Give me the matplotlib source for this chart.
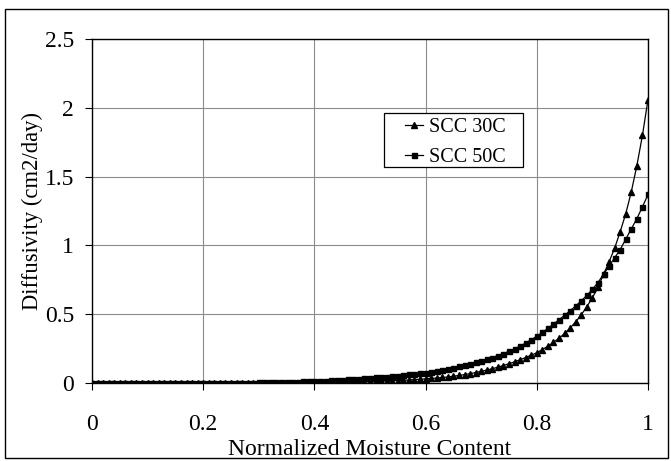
import matplotlib
matplotlib.use("Agg")
import matplotlib.pyplot as plt
from matplotlib.patches import Rectangle

# normalized moisture content, 0.00 .. 1.00 in steps of 0.01
moisture = [i / 100 for i in range(101)]

# diffusivity (cm2/day)
scc_30c = ([0.000] * 20 + [0.001] * 10 + [0.002] * 8 +
           [0.003, 0.003,
            0.003, 0.004, 0.004, 0.005, 0.005, 0.006, 0.007, 0.007, 0.008, 0.009,
            0.011, 0.012, 0.013, 0.015, 0.016, 0.018, 0.020, 0.022, 0.025, 0.027,
            0.030, 0.033, 0.036, 0.040, 0.044, 0.049, 0.055, 0.061, 0.068, 0.076,
            0.085, 0.094, 0.104, 0.115, 0.127, 0.140, 0.154, 0.169, 0.185, 0.202,
            0.220, 0.243, 0.268, 0.295, 0.325, 0.360, 0.400, 0.445, 0.495, 0.555,
            0.620, 0.695, 0.790, 0.880, 0.980, 1.100, 1.230, 1.390, 1.580, 1.800,
            2.060])

scc_50c = ([0.000] * 10 + [0.001] * 10 + [0.002] * 5 + [0.003] * 5 +
           [0.004, 0.005, 0.005, 0.006, 0.007, 0.008, 0.009, 0.010, 0.012, 0.013,
            0.015, 0.016, 0.018, 0.020, 0.022, 0.024, 0.026, 0.029, 0.031, 0.034,
            0.037, 0.040, 0.043, 0.047, 0.050, 0.054, 0.058, 0.062, 0.067, 0.071,
            0.075, 0.081, 0.088, 0.095, 0.103, 0.111, 0.120, 0.129, 0.139, 0.149,
            0.160, 0.172, 0.185, 0.199, 0.214, 0.230, 0.248, 0.268, 0.290, 0.314,
            0.340, 0.368, 0.397, 0.428, 0.460, 0.492, 0.525, 0.560, 0.597, 0.637,
            0.680, 0.730, 0.790, 0.850, 0.910, 0.970, 1.045, 1.120, 1.195, 1.280,
            1.370])

x_ticks = [0, 0.2, 0.4, 0.6, 0.8, 1]
x_labels = ['0', '0.2', '0.4', '0.6', '0.8', '1']
y_ticks = [0, 0.5, 1, 1.5, 2, 2.5]
y_labels = ['0', '0.5', '1', '1.5', '2', '2.5']

plt.rcParams['font.family'] = ['Liberation Serif', 'DejaVu Serif']

W, H = 671, 461
fig = plt.figure(figsize=(W / 100, H / 100), dpi=100)
ax = fig.add_axes([92 / W, 1 - 383 / H, (648 - 92) / W, (383 - 39) / H])

ax.plot(moisture, scc_30c, color='black', lw=0.9, marker='^', markersize=4.5,
        label='SCC 30C')
ax.plot(moisture, scc_50c, color='black', lw=0.9, marker='s', markersize=3.6,
        label='SCC 50C')

ax.set_xlim(0, 1)
ax.set_ylim(0, 2.5)
ax.set_xticks(x_ticks)
ax.set_xticklabels(x_labels)
ax.set_yticks(y_ticks)
ax.set_yticklabels(y_labels)
ax.tick_params(direction='out', length=5, width=0.8, labelsize=17)
ax.tick_params(axis='y', pad=8)
ax.tick_params(axis='x', pad=17)
ax.grid(True, color='#8c8c8c', lw=0.8)
ax.set_axisbelow(True)
for s in ax.spines.values():
    s.set_linewidth(1.0)
    s.set_color('black')

ax.set_xlabel('Normalized Moisture Content', fontsize=17, labelpad=3)
ax.set_ylabel('Diffusivity (cm2/day)', fontsize=16.3, labelpad=1)

# legend entries without frame, box drawn separately (Excel-style padding)
leg = ax.legend(loc='center left', bbox_to_anchor=(0.563, 0.699), frameon=False,
                fontsize=14.5, handlelength=0.9, handletextpad=0.3,
                borderpad=0, labelspacing=0.52, borderaxespad=0)
ax.add_patch(Rectangle((0.525, 0.628), 0.25, 0.157, transform=ax.transAxes,
                       facecolor='white', edgecolor='black', lw=0.9, zorder=4))
leg.set_zorder(5)

fig.patches.append(Rectangle((5 / W, 3 / H), 663 / W, 449 / H, transform=fig.transFigure,
                             fill=False, edgecolor='black', lw=1.0))

fig.savefig('out.png', dpi=100)
